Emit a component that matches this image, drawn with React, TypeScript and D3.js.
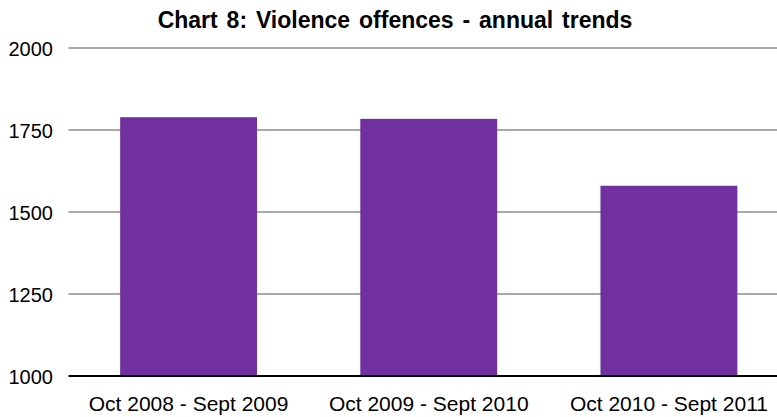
import React from 'react';
import * as d3 from 'd3';

const W = 777;
const H = 417;
const margin = { top: 48, right: -12, bottom: 41, left: 68.5 };

const categories = ['Oct 2008 - Sept 2009', 'Oct 2009 - Sept 2010', 'Oct 2010 - Sept 2011'];
const offences = [1789, 1784, 1580];
const yTicks = [1000, 1250, 1500, 1750, 2000];

const App = () => {
  const x = d3.scaleBand<string>()
    .domain(categories)
    .range([margin.left, W - margin.right])
    .paddingInner(0.43)
    .paddingOuter(0.215);

  const y = d3.scaleLinear()
    .domain([1000, 2000])
    .range([H - margin.bottom, margin.top]);

  const font = 'Arial, "Liberation Sans", sans-serif';

  return (
    <svg width={W} height={H} style={{ display: 'block', position: 'absolute', left: 0, top: 0, background: '#fff' }}>
      <text x={395} y={28} textAnchor="middle" fontFamily={font} fontSize={23} fontWeight="bold" wordSpacing={2.5} fill="#000">
        Chart 8: Violence offences - annual trends
      </text>

      {/* gridlines */}
      {yTicks.filter(t => t !== 1000).map(t => (
        <line key={t} x1={margin.left} x2={W} y1={y(t)} y2={y(t)} stroke="#8c8c8c" strokeWidth={1.5} />
      ))}

      {yTicks.map(t => (
        <text key={'l' + t} x={53} y={y(t)} dy="0.42em" textAnchor="end" fontFamily={font} fontSize={20} fill="#000">
          {t}
        </text>
      ))}

      {categories.map((c, i) => (
        <rect key={c} x={x(c)} y={y(offences[i])} width={x.bandwidth()} height={y(1000) - y(offences[i])} fill="#7030a0" />
      ))}

      {/* baseline */}
      <line x1={margin.left} x2={W} y1={y(1000)} y2={y(1000)} stroke="#000" strokeWidth={2} />

      {categories.map(c => (
        <text key={'c' + c} x={(x(c) as number) + x.bandwidth() / 2} y={411} textAnchor="middle" fontFamily={font} fontSize={21} fill="#000">
          {c}
        </text>
      ))}
    </svg>
  );
};

export default App;
